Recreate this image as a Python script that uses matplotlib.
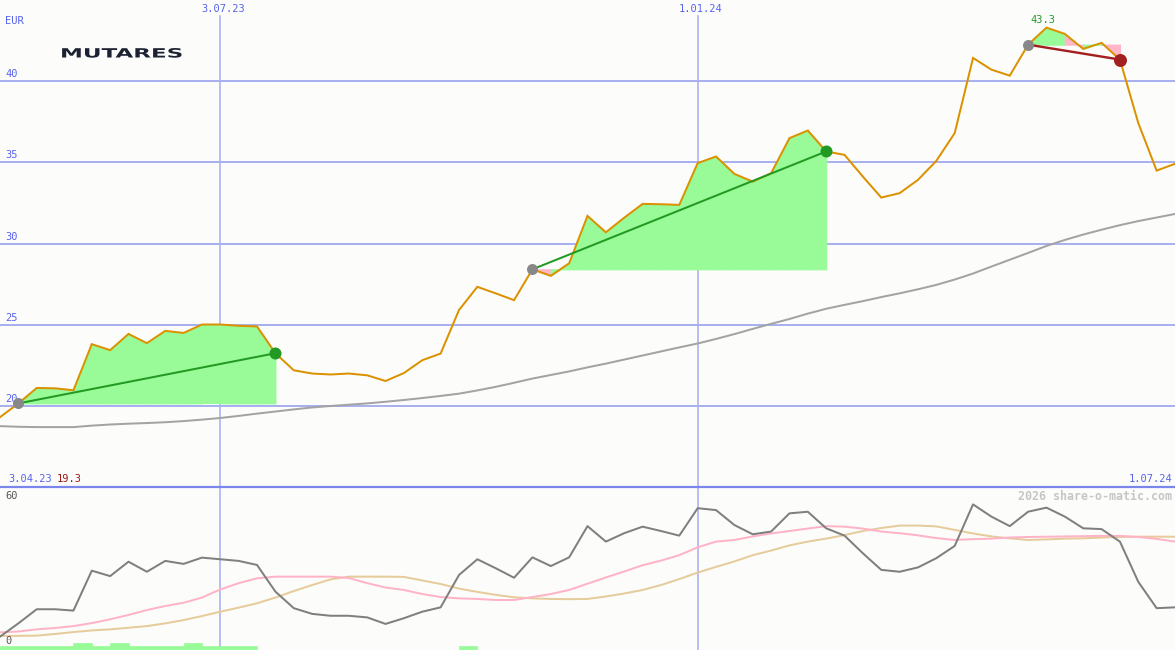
import numpy as np
import matplotlib
matplotlib.use("Agg")
import matplotlib.pyplot as plt
from matplotlib import patheffects
from matplotlib.lines import Line2D
from matplotlib.transforms import Affine2D, blended_transform_factory

# ---------------- data (weekly closes, Apr 2023 - Jul 2024) ----------------
price = [19.3, 20.15, 21.10, 21.08, 20.96, 23.80, 23.43, 24.43, 23.86, 24.62,
         24.49, 25.01, 25.01, 24.93, 24.89, 23.24, 22.19, 21.99, 21.93, 21.99,
         21.88, 21.53, 22.02, 22.81, 23.22, 25.90, 27.33, 26.93, 26.51, 28.41,
         28.01, 28.78, 31.70, 30.69, 31.59, 32.44, 32.42, 32.38, 34.95, 35.36,
         34.29, 33.81, 34.33, 36.49, 36.96, 35.67, 35.46, 34.12, 32.83, 33.10,
         33.92, 35.09, 36.80, 41.43, 40.71, 40.34, 42.25, 43.3, 42.91, 41.99,
         42.36, 41.33, 37.42, 34.49, 34.91]

moving_avg = [18.75, 18.71, 18.69, 18.69, 18.69, 18.78, 18.85, 18.90, 18.94, 18.99,
              19.06, 19.15, 19.25, 19.38, 19.52, 19.65, 19.78, 19.90, 19.99, 20.07,
              20.15, 20.25, 20.36, 20.48, 20.61, 20.75, 20.95, 21.17, 21.42, 21.68,
              21.90, 22.12, 22.37, 22.60, 22.85, 23.10, 23.35, 23.60, 23.84, 24.12,
              24.42, 24.74, 25.05, 25.35, 25.68, 25.98, 26.22, 26.45, 26.70, 26.93,
              27.18, 27.45, 27.78, 28.15, 28.58, 29.00, 29.42, 29.85, 30.22, 30.55,
              30.85, 31.13, 31.38, 31.60, 31.82]

oscillator = [4.9, 9.8, 15.0, 15.0, 14.5, 29.2, 27.2, 32.5, 28.8, 32.8,
              31.7, 34.0, 33.4, 32.8, 31.3, 21.5, 15.4, 13.3, 12.6, 12.6,
              12.0, 9.6, 11.7, 14.1, 15.7, 27.6, 33.4, 30.1, 26.6, 34.1,
              30.9, 34.1, 45.6, 39.9, 43.0, 45.4, 43.8, 42.1, 52.2, 51.5,
              46.0, 42.6, 43.6, 50.3, 50.9, 44.8, 42.1, 35.6, 29.5, 28.8,
              30.4, 33.8, 38.3, 53.6, 49.1, 45.6, 50.9, 52.4, 49.1, 44.8,
              44.5, 39.9, 25.1, 15.4, 15.7]

osc_fast = [6.5, 6.8, 7.6, 8.1, 8.8, 9.9, 11.3, 12.9, 14.7, 16.2,
            17.4, 19.3, 22.3, 24.6, 26.4, 27.0, 27.0, 27.0, 27.0, 26.5,
            24.6, 23.0, 22.1, 20.6, 19.5, 19.0, 18.8, 18.4, 18.4, 19.5,
            20.6, 22.1, 24.4, 26.7, 28.9, 31.2, 32.9, 34.9, 37.8, 39.9,
            40.5, 41.8, 42.9, 43.8, 44.7, 45.6, 45.4, 44.7, 43.6, 43.0,
            42.2, 41.2, 40.5, 40.8, 41.0, 41.4, 41.6, 41.7, 41.8, 41.9,
            42.0, 42.0, 41.6, 40.9, 39.9]

osc_slow = [5.2, 5.2, 5.3, 5.9, 6.6, 7.2, 7.6, 8.2, 8.8, 9.8,
            11.0, 12.5, 14.1, 15.6, 17.2, 19.3, 21.7, 23.9, 26.0, 27.0,
            27.0, 27.0, 26.9, 25.6, 24.3, 22.6, 21.4, 20.3, 19.4, 19.0,
            18.8, 18.7, 18.8, 19.7, 20.8, 22.1, 23.9, 26.1, 28.5, 30.6,
            32.6, 34.9, 36.6, 38.5, 39.9, 41.0, 42.3, 43.8, 44.9, 45.8,
            45.8, 45.5, 44.2, 42.9, 41.8, 41.1, 40.5, 40.7, 41.0, 41.1,
            41.4, 41.6, 41.7, 41.7, 41.7]

# weekly signal strength bars (one per week interval)
signal = [1.3, 1.3, 1.3, 1.3, 2.6, 1.3, 2.6, 1.3, 1.3, 1.3,
          2.6, 1.3, 1.3, 1.3, 0, 0, 0, 0, 0, 0,
          0, 0, 0, 0, 0, 1.3, 0, 0, 0, 0,
          0, 0, 0, 0, 0, 0, 0, 0, 0, 0,
          0, 0, 0, 0, 0, 0, 0, 0, 0, 0,
          0, 0, 0, 0, 0, 0, 0, 0, 0, 0,
          0, 0, 0, 0]

# trend segments (week index of start / end)
trend_start = [1, 29, 56]
trend_end = [15, 45, 61]

price_levels = [20, 25, 30, 35, 40]
month_pos = [12, 38]
month_labels = ["3.07.23", "1.01.24"]
first_date = "3.04.23"
last_date = "1.07.24"
currency = "EUR"
company = "MUTARES"
osc_top_label = "60"
osc_bottom_label = "0"
watermark = "2026 share-o-matic.com"

# ---------------- styling ----------------
W, H, DPI = 1175, 650, 100
PX = 72.0 / DPI          # points per pixel
BG = "#fcfdfb"
GRID = "#a9b0f0"
SEP = "#7a86ea"
LABEL_BLUE = "#5763ee"
ORANGE = "#dc9100"
MA_GRAY = "#a3a3a3"
UP_FILL = "#98fb98"
DOWN_FILL = "#ffb6c8"
UP_LINE = "#229922"
DOWN_LINE = "#a32020"
MONO = "DejaVu Sans Mono"
LBL = 7.5


def fx(px):
    return px / W


def fy(py):
    return 1 - py / H


class StretchX(patheffects.AbstractPathEffect):
    """Widen glyphs horizontally around the text origin."""

    def __init__(self, sx):
        super().__init__()
        self.sx = sx

    def draw_path(self, renderer, gc, tpath, affine, rgbFace=None):
        x0 = affine.get_matrix()[0, 2]
        wide = affine + Affine2D().translate(-x0, 0).scale(self.sx, 1).translate(x0, 0)
        renderer.draw_path(gc, tpath, wide, rgbFace)


weeks = np.arange(len(price))

fig = plt.figure(figsize=(W / DPI, H / DPI), dpi=DPI, facecolor=BG)
ax = fig.add_axes([0, 163 / H, 1, 487 / H])
axb = fig.add_axes([0, 0, 1, 163 / H])
for a in (ax, axb):
    a.set_facecolor(BG)
    a.set_xlim(0, len(price) - 1)
    for s in a.spines.values():
        s.set_visible(False)
    a.set_xticks([])
    a.set_yticks([])
ax.set_ylim(15, 45)
axb.set_ylim(0, 60)

# ---- price panel grid and labels ----
for lvl in price_levels:
    ax.axhline(lvl, color=GRID, lw=2 * PX, zorder=1)
    ax.annotate(str(lvl), (0, lvl), xytext=(5 * PX, 2 * PX), textcoords="offset points",
                ha="left", va="bottom", fontsize=LBL, family=MONO, color=LABEL_BLUE,
                zorder=1.5)

top_tr = blended_transform_factory(ax.transData, fig.transFigure)
for pos, lab in zip(month_pos, month_labels):
    ax.axvline(pos, ymin=0, ymax=1 - 16 / 487, color=GRID, lw=1.6 * PX, zorder=1)
    axb.axvline(pos, color=GRID, lw=1.6 * PX, zorder=1)
    ax.annotate(lab, (pos, fy(9)), xycoords=top_tr, xytext=(3 * PX, 0),
                textcoords="offset points", ha="center", va="center",
                fontsize=LBL, family=MONO, color=LABEL_BLUE)

fig.text(fx(5), fy(21), currency, ha="left", va="center", fontsize=LBL,
         family=MONO, color=LABEL_BLUE)

fig.text(fx(60), fy(57.5), company, ha="left", va="baseline", fontsize=9.2,
         family="DejaVu Sans", weight="bold", color="#1c2232",
         path_effects=[StretchX(1.8)])

# ---- moving average and price ----
ax.plot(weeks, moving_avg, color=MA_GRAY, lw=2 * PX, zorder=2.5)

for s, e in zip(trend_start, trend_end):
    base = price[s]
    for k in range(s, e):
        col = UP_FILL if price[k + 1] >= base else DOWN_FILL
        ax.fill_between(weeks[k:k + 2], base, price[k:k + 2], facecolor=col,
                        edgecolor=col, lw=0.8, zorder=2)

ax.plot(weeks, price, color=ORANGE, lw=2 * PX, zorder=3, solid_joinstyle="miter")

for s, e in zip(trend_start, trend_end):
    up = price[e] >= price[s]
    line_col = UP_LINE if up else DOWN_LINE
    ax.plot([s, e], [price[s], price[e]], color=line_col,
            lw=(2 if up else 2.4) * PX, zorder=4)
    ax.plot(s, price[s], "o", color="#888888", ms=11 * PX, mew=0, zorder=5)
    ax.plot(e, price[e], "o", color=line_col, ms=(12 if up else 13) * PX, mew=0, zorder=5)

i_max = int(np.argmax(price))
ax.annotate(f"{price[i_max]:.1f}", (weeks[i_max], price[i_max]), xytext=(-4 * PX, 3 * PX),
            textcoords="offset points", ha="center", va="bottom", fontsize=LBL,
            family=MONO, color=UP_LINE)

i_min = int(np.argmin(price))
fig.text(fx(8), fy(479), first_date, ha="left", va="center", fontsize=LBL,
         family=MONO, color=LABEL_BLUE)
fig.text(fx(57), fy(479), f"{price[i_min]:.1f}", ha="left", va="center", fontsize=LBL,
         family=MONO, color="#a01818")
fig.text(fx(1172), fy(479), last_date, ha="right", va="center", fontsize=LBL,
         family=MONO, color=LABEL_BLUE)

# panel separator
fig.add_artist(Line2D([0, 1], [163 / H, 163 / H], transform=fig.transFigure,
                      color=SEP, lw=2.2 * PX, zorder=10))

# ---- oscillator panel ----
axb.bar(weeks[:-1] + 0.5, signal, width=1.0, facecolor=UP_FILL, edgecolor=UP_FILL,
        lw=0.5, zorder=1)
axb.plot(weeks, osc_slow, color="#e6cb9b", lw=2 * PX, zorder=2)
axb.plot(weeks, osc_fast, color="#ffb3c6", lw=2 * PX, zorder=2.2)
axb.plot(weeks, oscillator, color="#7f7f7f", lw=2 * PX, zorder=3)

fig.text(fx(5), fy(496), osc_top_label, ha="left", va="center", fontsize=LBL,
         family=MONO, color="#555555")
fig.text(fx(5), fy(641), osc_bottom_label, ha="left", va="center", fontsize=LBL,
         family=MONO, color="#555555")
fig.text(fx(1172), fy(496), watermark, ha="right", va="center", fontsize=8.4,
         family=MONO, weight="bold", color="#c6c6c6")

fig.savefig("out.png", dpi=DPI, facecolor=BG)
